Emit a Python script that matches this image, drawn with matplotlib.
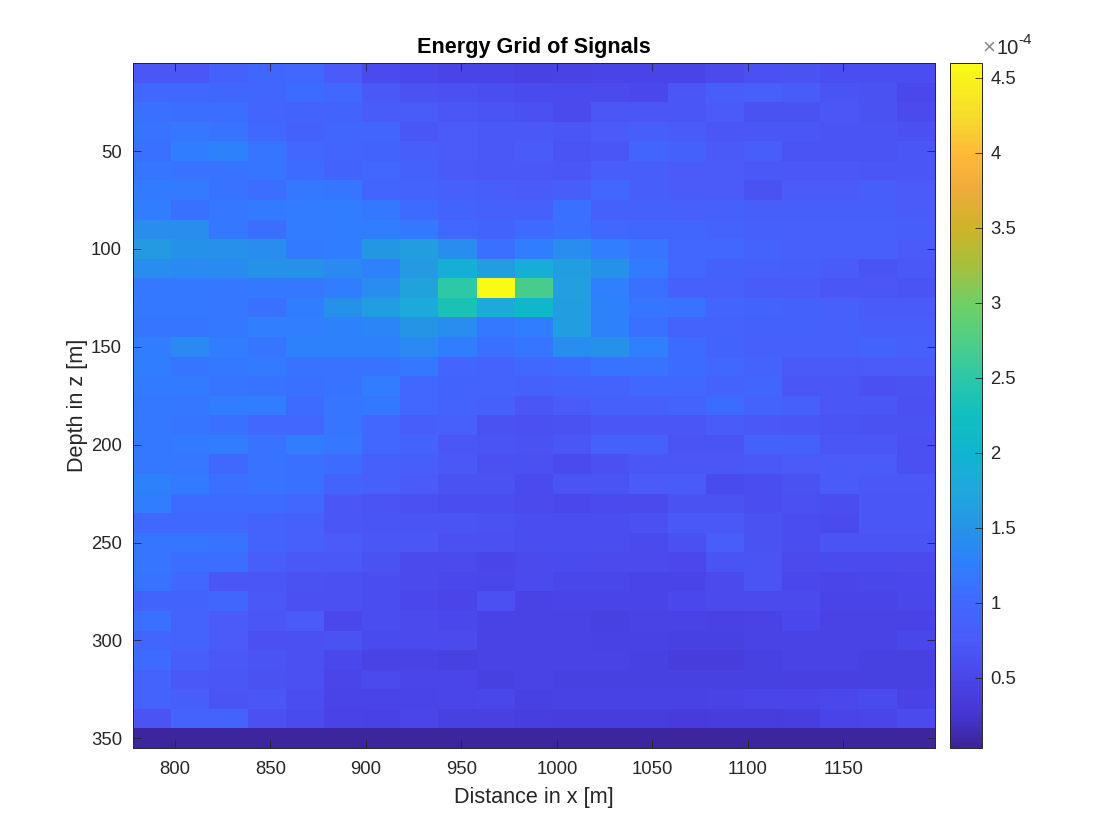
import numpy as np
import matplotlib
matplotlib.use("Agg")
import matplotlib.pyplot as plt
from matplotlib.colors import LinearSegmentedColormap

plt.rcParams['font.family'] = ['Liberation Sans', 'DejaVu Sans']

# --- GRID VALUES (x 1e-4), one row per depth ---
x_centers = [788, 808, 828, 848, 868, 888, 908, 928, 948, 968, 988,
             1008, 1028, 1048, 1068, 1088, 1108, 1128, 1148, 1168, 1188]
z_centers = [10, 20, 30, 40, 50, 60, 70, 80, 90, 100, 110, 120, 130, 140, 150, 160, 170, 180,
             190, 200, 210, 220, 230, 240, 250, 260, 270, 280, 290, 300, 310, 320, 330, 340, 350]
energy = [
    [.70, .70, .88, .96, .98, .76, .58, .53, .49, .49, .45, .47, .49, .49, .49, .55, .62, .65, .60, .60, .60],
    [.98, .98, .96, .96, 1.06, .98, .71, .65, .62, .60, .57, .57, .55, .53, .70, .80, .82, .77, .67, .65, .53],
    [1.10, 1.08, 1.08, .95, .92, .92, .77, .77, .70, .67, .62, .55, .70, .70, .70, .75, .65, .65, .70, .65, .55],
    [1.13, 1.17, 1.12, .98, .88, .96, .96, .70, .75, .72, .72, .70, .75, .80, .77, .70, .70, .70, .67, .67, .62],
    [1.10, 1.23, 1.28, 1.15, 1.00, .95, .92, .80, .76, .72, .77, .67, .70, .95, .88, .74, .80, .67, .67, .67, .70],
    [1.15, 1.12, 1.13, 1.14, 1.03, .92, .98, .88, .74, .72, .72, .70, .80, .80, .75, .75, .72, .72, .72, .70, .70],
    [1.20, 1.20, 1.12, 1.08, 1.18, 1.14, .95, .90, .82, .80, .77, .80, 1.01, .80, .77, .75, .65, .75, .75, .80, .75],
    [1.24, 1.10, 1.17, 1.20, 1.22, 1.24, 1.18, 1.03, .92, .85, .85, 1.10, .88, .84, .82, .84, .80, .80, .80, .80, .77],
    [1.42, 1.42, 1.18, 1.07, 1.22, 1.24, 1.23, 1.18, 1.01, .92, 1.03, 1.10, 1.01, .96, .96, .90, .84, .82, .82, .82, .80],
    [1.58, 1.47, 1.45, 1.42, 1.20, 1.24, 1.54, 1.62, 1.42, 1.10, 1.23, 1.42, 1.25, 1.15, 1.00, 1.01, .90, .82, .82, .82, .75],
    [1.42, 1.37, 1.39, 1.47, 1.47, 1.37, 1.28, 1.58, 1.90, 1.62, 1.90, 1.62, 1.47, 1.20, .98, .88, .82, .80, .77, .67, .72],
    [1.17, 1.17, 1.17, 1.19, 1.17, 1.23, 1.42, 1.70, 2.50, 4.60, 2.70, 1.65, 1.25, 1.10, .85, .82, .77, .77, .70, .70, .67],
    [1.18, 1.18, 1.17, 1.10, 1.24, 1.47, 1.62, 1.80, 2.35, 1.80, 2.10, 1.62, 1.28, 1.15, 1.13, .95, .92, .88, .82, .77, .77],
    [1.15, 1.15, 1.18, 1.25, 1.25, 1.28, 1.32, 1.50, 1.42, 1.19, 1.24, 1.62, 1.28, 1.10, .90, .90, .88, .88, .84, .80, .80],
    [1.24, 1.37, 1.23, 1.15, 1.28, 1.28, 1.29, 1.37, 1.24, 1.10, 1.14, 1.42, 1.47, 1.25, 1.06, .92, .85, .85, .85, .92, .85],
    [1.23, 1.15, 1.18, 1.20, 1.12, 1.12, 1.13, 1.18, .95, .90, 1.00, 1.06, 1.12, 1.12, 1.06, 1.01, .90, .74, .74, .75, .75],
    [1.20, 1.20, 1.15, 1.13, 1.10, 1.12, 1.22, 1.01, .92, .90, .85, .90, .90, .98, 1.00, .90, .96, .70, .70, .62, .65],
    [1.18, 1.17, 1.23, 1.24, 1.03, 1.15, 1.18, .98, .90, .85, .70, .77, .85, .85, .90, 1.06, .90, .85, .70, .70, .62],
    [1.19, 1.15, 1.10, 1.01, 1.00, 1.14, 1.01, .80, .82, .65, .62, .65, .70, .70, .70, .77, .72, .70, .67, .65, .65],
    [1.18, 1.20, 1.22, 1.13, 1.24, 1.17, .98, .90, .70, .67, .65, .70, .88, .88, .67, .67, .88, .88, .70, .70, .62],
    [1.19, 1.17, 1.01, 1.12, 1.10, 1.03, .85, .80, .72, .62, .62, .57, .62, .70, .70, .70, .72, .75, .77, .77, .62],
    [1.28, 1.20, 1.10, 1.12, 1.10, .92, .82, .75, .65, .65, .57, .67, .67, .75, .77, .57, .60, .65, .77, .72, .72],
    [1.24, 1.03, 1.03, 1.03, 1.00, .70, .67, .62, .60, .60, .56, .54, .58, .56, .64, .64, .60, .62, .60, .70, .70],
    [1.01, 1.01, 1.01, .90, .85, .70, .68, .66, .66, .64, .60, .60, .60, .62, .72, .72, .65, .60, .58, .70, .70],
    [1.14, 1.14, 1.12, .90, .82, .75, .70, .70, .62, .62, .60, .60, .60, .57, .62, .80, .65, .60, .67, .67, .67],
    [1.14, 1.08, 1.08, .80, .72, .72, .65, .55, .55, .51, .55, .57, .55, .55, .53, .67, .67, .55, .57, .57, .55],
    [1.13, .98, .70, .70, .65, .62, .60, .55, .53, .52, .57, .52, .52, .49, .49, .55, .67, .53, .51, .52, .53],
    [.92, .92, .96, .72, .62, .62, .60, .53, .50, .62, .47, .49, .49, .49, .53, .55, .55, .55, .49, .49, .52],
    [1.10, .90, .75, .70, .75, .53, .60, .55, .53, .47, .47, .47, .44, .47, .47, .45, .47, .53, .47, .47, .47],
    [.96, .90, .75, .62, .62, .65, .57, .57, .55, .46, .47, .47, .45, .45, .44, .44, .47, .47, .47, .47, .52],
    [1.03, .80, .72, .67, .62, .53, .47, .47, .44, .47, .46, .47, .47, .43, .38, .38, .44, .47, .47, .44, .44],
    [.90, .72, .70, .65, .62, .50, .55, .50, .50, .44, .46, .44, .44, .44, .43, .43, .43, .41, .41, .44, .44],
    [.90, .80, .67, .70, .60, .49, .49, .49, .50, .52, .44, .45, .45, .45, .45, .47, .50, .50, .53, .57, .47],
    [.67, .90, .90, .62, .57, .47, .45, .50, .44, .41, .40, .38, .38, .38, .36, .38, .38, .40, .49, .50, .55],
    [.05, .05, .05, .05, .05, .05, .05, .05, .05, .05, .05, .05, .05, .05, .05, .05, .05, .05, .05, .05, .05],
]
x_ticks = [800, 850, 900, 950, 1000, 1050, 1100, 1150]
z_ticks = [50, 100, 150, 200, 250, 300, 350]
cbar_ticks = [0.5, 1, 1.5, 2, 2.5, 3, 3.5, 4, 4.5]

# colour bar as it looks in the reference, value -> colour
cmap_values = [.03, .25, .5, .75, 1.0, 1.25, 1.5, 1.75, 2.0, 2.25, 2.5, 2.75, 3.0, 3.25, 3.5, 3.75, 4.0, 4.25, 4.6]
cmap_colors = ['#3d2499', '#4536d2', '#4a46ea', '#4a5cfa', '#4068ff', '#2f80ff', '#2595e5', '#1fa8dc',
               '#0fb5d0', '#10bfbf', '#2cc8a8', '#4fce85', '#70cf65', '#a5c03c', '#ceb428', '#eeab3a',
               '#ffb938', '#f5dc2c', '#f9fb14']

vmin, vmax = cmap_values[0], cmap_values[-1]
stops = [(v - vmin) / (vmax - vmin) for v in cmap_values]
parula_like = LinearSegmentedColormap.from_list('parula_like', list(zip(stops, cmap_colors)), N=256)

W, H = 1120, 840
dark = '#262626'
fig = plt.figure(figsize=(W / 100, H / 100), dpi=100)
ax = fig.add_axes([133 / W, 1 - 748 / H, 802 / W, 685 / H])
cax = fig.add_axes([950 / W, 1 - 748 / H, 32 / W, 685 / H])

extent = [x_centers[0] - 10, x_centers[-1] + 10, z_centers[-1] + 5, z_centers[0] - 5]
im = ax.imshow(np.array(energy), cmap=parula_like, vmin=vmin, vmax=vmax, aspect='auto',
               interpolation='nearest', extent=extent)

ax.set_xticks(x_ticks)
ax.set_yticks(z_ticks)
ax.tick_params(direction='in', top=True, right=True, length=6, width=0.6, color=dark,
               labelcolor=dark, labelsize=13.3, pad=8)
ax.tick_params(axis='x', pad=9.5)
ax.set_title('Energy Grid of Signals', fontsize=15.6, fontweight='bold', color='black', pad=7)
ax.set_xlabel('Distance in x [m]', fontsize=15.6, color=dark, labelpad=6.5)
ax.set_ylabel('Depth in z [m]', fontsize=15.6, color=dark, labelpad=2)
for s in ax.spines.values():
    s.set_color(dark)
    s.set_linewidth(0.7)

cb = fig.colorbar(im, cax=cax)
cb.set_ticks(cbar_ticks)
cb.set_ticklabels([f'{t:g}' for t in cbar_ticks])
cb.ax.tick_params(direction='in', length=5, width=0.6, color=dark, labelcolor=dark, labelsize=13.3, pad=6)
cb.outline.set_edgecolor(dark)
cb.outline.set_linewidth(0.7)

# exponent above the colour bar, drawn in three pieces like the reference
fig.text(982 / W, 1 - 48 / H, '×', fontsize=16, color='#8a8a8a', va='center', ha='left')
fig.text(996 / W, 1 - 48 / H, '10', fontsize=14.5, color=dark, va='center', ha='left')
fig.text(1018 / W, 1 - 40 / H, '-4', fontsize=11, color=dark, va='center', ha='left')

fig.savefig('out.png', dpi=100)
